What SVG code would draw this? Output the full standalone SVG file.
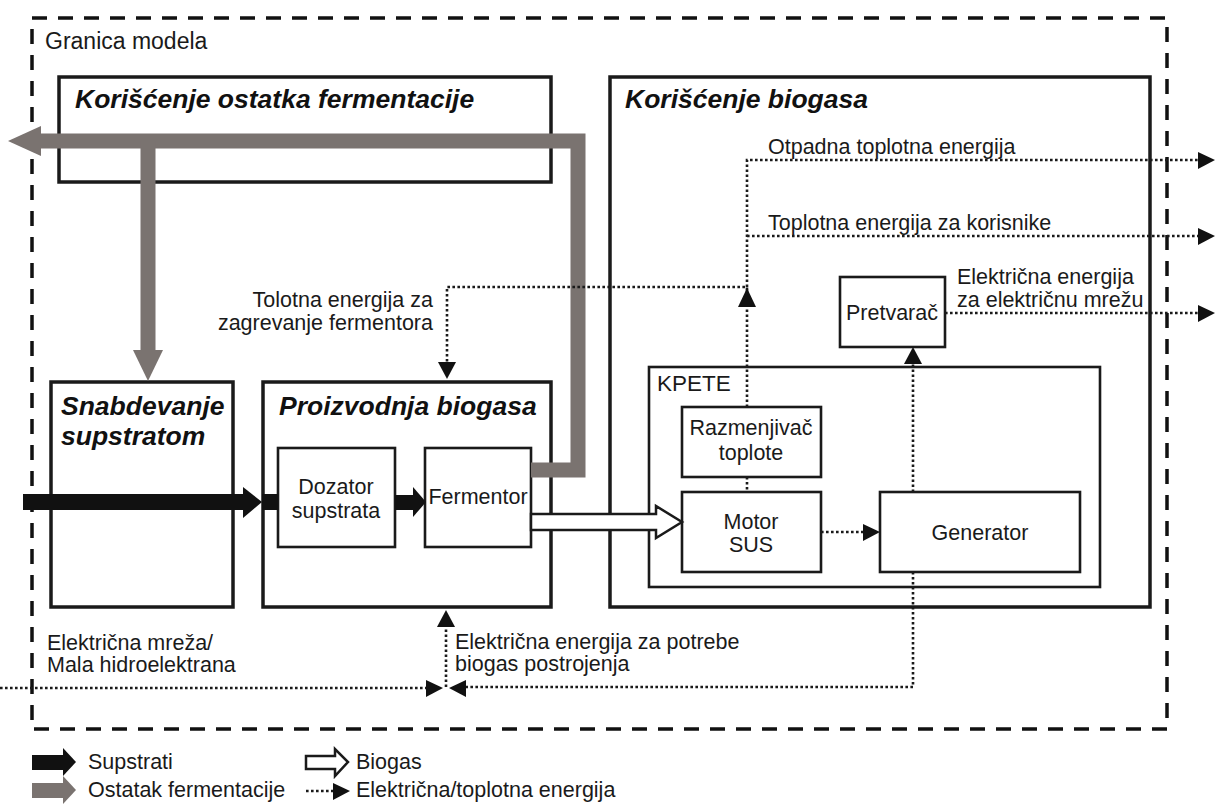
<svg xmlns="http://www.w3.org/2000/svg" width="1220" height="804" viewBox="0 0 1220 804">
  <defs>
    <style>
      .t { font-family: "Liberation Sans", Arial, sans-serif; font-size: 21.5px; fill: #1a1a1a; }
      .title { font-family: "Liberation Sans", Arial, sans-serif; font-size: 26.5px; font-weight: bold; font-style: italic; fill: #111; }
      .mid { text-anchor: middle; }
      .end { text-anchor: end; }
      .box { fill: #fff; stroke: #1a1a1a; stroke-width: 3.5; }
      .inner { fill: #fff; stroke: #1a1a1a; stroke-width: 2.6; }
      .dot { fill: none; stroke: #1a1a1a; stroke-width: 2.6; stroke-dasharray: 2.6 2.4; }
      .head { fill: #111; }
      .gray { fill: none; stroke: #7a7370; stroke-width: 15; stroke-linejoin: miter; }
      .grayhead { fill: #7a7370; }
      .black { fill: #111; }
      .biogas { fill: #fff; stroke: #1a1a1a; stroke-width: 2.5; stroke-linejoin: miter; }
    </style>
  </defs>

  <rect width="1220" height="804" fill="#fff"/>

  <!-- model boundary -->
  <g id="boundary">
    <rect x="32" y="18" width="1135" height="711" fill="none" stroke="#111" stroke-width="3.5" stroke-dasharray="15 11"/>
    <text class="t" x="45" y="49" style="font-size:23px">Granica modela</text>
  </g>

  <!-- digestate use -->
  <g id="digestate-use">
    <rect class="box" x="59" y="77" width="492" height="105"/>
    <text class="title" x="75" y="108">Korišćenje ostatka fermentacije</text>
  </g>

  <!-- biogas use -->
  <g id="biogas-use">
    <rect class="box" x="610" y="77" width="540" height="530"/>
    <text class="title" x="625" y="108">Korišćenje biogasa</text>
  </g>

  <!-- substrate supply -->
  <g id="substrate-supply">
    <rect class="box" x="51" y="382" width="182" height="225"/>
    <text class="title" x="61" y="415">Snabdevanje</text>
    <text class="title" x="61" y="445">supstratom</text>
  </g>

  <!-- biogas production -->
  <g id="biogas-production">
    <rect class="box" x="263" y="382" width="288" height="225"/>
    <text class="title" x="279" y="415">Proizvodnja biogasa</text>
  </g>

  <g id="dozator">
    <rect class="inner" x="278" y="448" width="117" height="99"/>
    <text class="t mid" x="336" y="494">Dozator</text>
    <text class="t mid" x="336" y="518">supstrata</text>
  </g>

  <g id="fermentor">
    <rect class="inner" x="425" y="448" width="106" height="99"/>
    <text class="t mid" x="478" y="504">Fermentor</text>
  </g>

  <!-- CHP unit -->
  <g id="kpete">
    <rect class="inner" x="649" y="367" width="451" height="220"/>
    <text class="t" x="657" y="391" style="font-size:22.5px">KPETE</text>
  </g>

  <g id="heat-exchanger">
    <rect class="inner" x="682" y="407" width="139" height="70"/>
    <text class="t mid" x="751" y="435">Razmenjivač</text>
    <text class="t mid" x="751" y="460">toplote</text>
  </g>

  <g id="engine">
    <rect class="inner" x="682" y="492" width="139" height="80"/>
    <text class="t mid" x="751" y="529">Motor</text>
    <text class="t mid" x="751" y="552">SUS</text>
  </g>

  <g id="generator">
    <rect class="inner" x="880" y="492" width="200" height="80"/>
    <text class="t mid" x="980" y="540">Generator</text>
  </g>

  <g id="inverter">
    <rect class="inner" x="840" y="277" width="105" height="70"/>
    <text class="t mid" x="892" y="320">Pretvarač</text>
  </g>

  <!-- flows -->
  <g id="connectors">
    <!-- digestate (gray) -->
    <path class="gray" d="M 40 141 H 578 V 470 H 531"/>
    <path class="gray" d="M 148 141 V 352"/>
    <polygon class="grayhead" points="41,126 8,141 41,156"/>
    <polygon class="grayhead" points="133,350 163,350 148,381"/>

    <!-- substrates (black) -->
    <rect class="black" x="23" y="494" width="221" height="16"/>
    <polygon class="black" points="243,487 262,502 243,518"/>
    <rect class="black" x="262" y="494" width="16" height="16"/>
    <rect class="black" x="395" y="495" width="19" height="15"/>
    <polygon class="black" points="413,487 426,502 413,517"/>

    <!-- biogas (outlined) -->
    <polygon class="biogas" points="531,514 656,514 656,506 682,522 656,538 656,530 531,530"/>

    <!-- energy (dotted) -->
    <path class="dot" d="M 747 407 V 160 H 1199"/>
    <path class="dot" d="M 747 236 H 1199"/>
    <path class="dot" d="M 747 477 V 492"/>
    <path class="dot" d="M 747 305 V 287 H 447 V 363"/>
    <path class="dot" d="M 945 313 H 1199"/>
    <path class="dot" d="M 913 492 V 363"/>
    <path class="dot" d="M 821 532 H 864"/>
    <path class="dot" d="M 913 572 V 687 H 466"/>
    <path class="dot" d="M 0 688 H 427"/>
    <path class="dot" d="M 446 687 V 626"/>

    <polygon class="head" points="1198,152 1215,160 1198,169"/>
    <polygon class="head" points="1198,228 1215,236 1198,245"/>
    <polygon class="head" points="1198,305 1215,313 1198,322"/>
    <polygon class="head" points="738,307 747,288 756,307"/>
    <polygon class="head" points="438,362 447,379 456,362"/>
    <polygon class="head" points="904,364 913,347 922,364"/>
    <polygon class="head" points="863,524 880,532 863,541"/>
    <polygon class="head" points="426,680 443,688 426,697"/>
    <polygon class="head" points="466,680 449,688 466,697"/>
    <polygon class="head" points="437,627 446,610 455,627"/>
  </g>

  <!-- flow labels -->
  <g id="labels">
    <text class="t" x="768" y="154">Otpadna toplotna energija</text>
    <text class="t" x="768" y="230">Toplotna energija za korisnike</text>
    <text class="t" x="957" y="284">Električna energija</text>
    <text class="t" x="957" y="307">za električnu mrežu</text>
    <text class="t end" x="433" y="307">Tolotna energija za</text>
    <text class="t end" x="433" y="330">zagrevanje fermentora</text>
    <text class="t" x="47" y="650">Električna mreža/</text>
    <text class="t" x="47" y="672">Mala hidroelektrana</text>
    <text class="t" x="455" y="649">Električna energija za potrebe</text>
    <text class="t" x="455" y="671">biogas postrojenja</text>
  </g>

  <!-- legend -->
  <g id="legend">
    <rect class="black" x="32" y="755" width="32" height="15"/>
    <polygon class="black" points="63,748 76,762 63,776"/>
    <text class="t" x="88" y="769">Supstrati</text>

    <rect class="grayhead" x="32" y="783" width="32" height="15"/>
    <polygon class="grayhead" points="63,776 76,790 63,804"/>
    <text class="t" x="88" y="797">Ostatak fermentacije</text>

    <polygon class="biogas" points="306,756 335,756 335,749 348,762 335,776 335,769 306,769"/>
    <text class="t" x="356" y="769">Biogas</text>

    <path class="dot" d="M 306 791 H 334"/>
    <polygon class="head" points="333,783 350,791 333,800"/>
    <text class="t" x="356" y="797">Električna/toplotna energija</text>
  </g>
</svg>
